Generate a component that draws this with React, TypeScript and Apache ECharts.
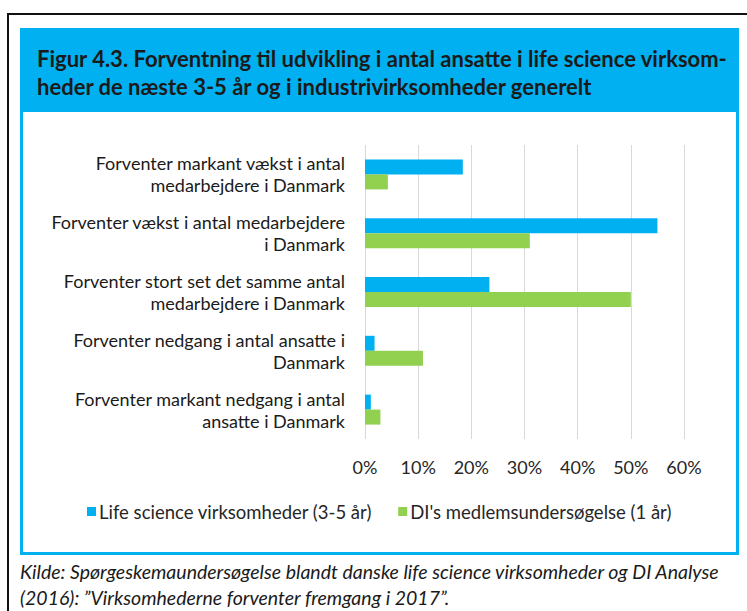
import React, { useEffect, useRef } from "react";
import * as echarts from "echarts";

const categories = [
  "Forventer markant vækst i antal\nmedarbejdere i Danmark",
  "Forventer vækst i antal medarbejdere\ni Danmark",
  "Forventer stort set det samme antal\nmedarbejdere i Danmark",
  "Forventer nedgang i antal ansatte i\nDanmark",
  "Forventer markant nedgang i antal\nansatte i Danmark",
];
const lifeScience = [18.4, 55.0, 23.4, 1.8, 1.1];
const diMembers = [4.3, 31.0, 50.0, 10.9, 2.9];
const seriesNames = ["Life science virksomheder (3-5 år)", "DI's medlemsundersøgelse (1 år)"];
const titleLines = [
  "Figur 4.3. Forventning til udvikling i antal ansatte i life science virksom-",
  "heder de næste 3-5 år og i industrivirksomheder generelt",
];
const sourceLines = [
  "Kilde: Spørgeskemaundersøgelse blandt danske life science virksomheder og DI Analyse",
  "(2016): \u201dVirksomhederne forventer fremgang i 2017\u201d.",
];

const BLUE = "#00B0F0";
const GREEN = "#92D050";
const FONT = "Lato";

export default function App() {
  const ref = useRef<HTMLDivElement>(null);
  useEffect(() => {
    if (!ref.current) return;
    const chart = echarts.init(ref.current, null, { renderer: "svg" });
    chart.setOption({
      animation: false,
      backgroundColor: "#ffffff",
      textStyle: { fontFamily: FONT },
      grid: { left: 365, right: 63, top: 145, height: 294, containLabel: false },
      legend: {
        left: 82,
        top: 497,
        icon: "rect",
        itemWidth: 9,
        itemHeight: 9,
        itemGap: 26,
        textStyle: { fontFamily: FONT, fontSize: 18.5, color: "#262626", padding: [0, 0, 0, -2] },
        data: seriesNames,
      },
      xAxis: {
        type: "value",
        min: 0,
        max: 60,
        interval: 10,
        axisLine: { show: false },
        axisTick: { show: false },
        splitLine: { show: true, lineStyle: { color: "#d9d9d9", width: 1 } },
        axisLabel: {
          formatter: "{value}%",
          fontFamily: FONT,
          fontSize: 18,
          color: "#262626",
          margin: 19,
        },
      },
      yAxis: {
        type: "category",
        inverse: true,
        data: categories,
        axisLine: { show: false },
        axisTick: { show: false },
        axisLabel: {
          align: "right",
          margin: 20,
          fontFamily: FONT,
          fontSize: 18,
          lineHeight: 22,
          color: "#1a1a1a",
        },
      },
      series: [
        {
          name: seriesNames[0],
          type: "bar",
          data: lifeScience,
          barWidth: 15,
          barGap: "0%",
          itemStyle: { color: BLUE },
        },
        {
          name: seriesNames[1],
          type: "bar",
          data: diMembers,
          barWidth: 15,
          barGap: "0%",
          itemStyle: { color: GREEN },
        },
      ],
      graphic: [
        { type: "line", shape: { x1: 8, y1: 14, x2: 747, y2: 14 }, style: { stroke: "#111", lineWidth: 2 }, z: 1 },
        { type: "line", shape: { x1: 8, y1: 13, x2: 8, y2: 611 }, style: { stroke: "#111", lineWidth: 2 }, z: 1 },
        { type: "rect", shape: { x: 20, y: 28, width: 719, height: 84 }, style: { fill: BLUE }, z: 1 },
        {
          type: "rect",
          shape: { x: 21.5, y: 29.5, width: 716, height: 524 },
          style: { fill: "none", stroke: BLUE, lineWidth: 3 },
          z: 1,
        },
        ...titleLines.map((t, i) => ({
          type: "text",
          x: 37,
          y: 58 + i * 28,
          z: 2,
          style: {
            text: t,
            fontFamily: FONT,
            fontWeight: "bold",
            fontSize: 22,
            fill: "#1a1a1a",
            verticalAlign: "middle",
            align: "left",
          },
        })),
        ...sourceLines.map((t, i) => ({
          type: "text",
          x: 20,
          y: 571 + i * 26,
          z: 2,
          style: {
            text: t,
            fontFamily: FONT,
            fontStyle: "italic",
            fontSize: 19.5,
            fill: "#1a1a1a",
            verticalAlign: "middle",
            align: "left",
          },
        })),
      ],
    });
    return () => chart.dispose();
  }, []);
  return (
    <div
      ref={ref}
      style={{ position: "absolute", left: 0, top: 0, width: 747, height: 611 }}
    />
  );
}
